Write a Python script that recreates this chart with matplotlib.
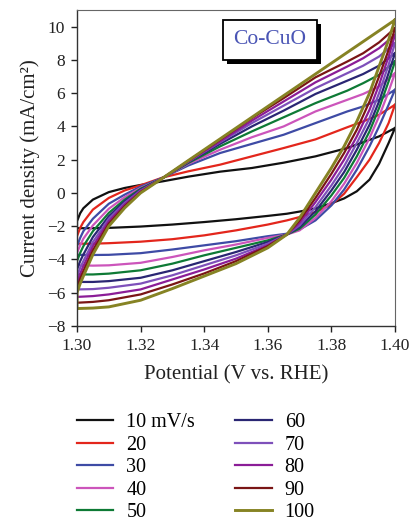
import matplotlib
matplotlib.use("Agg")
import matplotlib.pyplot as plt
import matplotlib.patheffects as pe

plt.rcParams['font.family'] = ['Liberation Serif', 'DejaVu Serif']

# scan rates (mV/s) and colours
rates = [10, 20, 30, 40, 50, 60, 70, 80, 90, 100]
labels = ['10 mV/s', '20', '30', '40', '50', '60', '70', '80', '90', '100']
colors = ['#111111', '#e3261c', '#3e4ba5', '#cc55bb', '#0e7a35',
          '#2a2673', '#7e50ba', '#8b1d97', '#7a1515', '#868324']

# anodic (forward) branch potentials and currents
v_up = [1.300, 1.301, 1.302, 1.305, 1.310, 1.315, 1.320, 1.327, 1.335,
        1.345, 1.355, 1.365, 1.375, 1.385, 1.390, 1.395, 1.400]
j_up = [
    [-1.7, -1.22, -0.92, -0.4, 0.05, 0.3, 0.48, 0.7, 0.98, 1.28, 1.5, 1.82, 2.2, 2.7, 3.05, 3.4, 3.9],
    [-2.6, -2.1, -1.75, -1.0, -0.3, 0.15, 0.46, 0.93, 1.3, 1.7, 2.2, 2.7, 3.22, 3.95, 4.3, 4.7, 5.3],
    [-3.2, -2.7, -2.3, -1.55, -0.65, -0.1, 0.38, 0.92, 1.65, 2.4, 2.95, 3.5, 4.2, 4.9, 5.2, 5.6, 6.2],
    [-3.6, -3.15, -2.75, -1.95, -0.95, -0.25, 0.3, 0.9, 1.75, 2.6, 3.35, 4.0, 4.9, 5.6, 5.95, 6.4, 7.2],
    [-4.1, -3.6, -3.2, -2.3, -1.2, -0.4, 0.25, 0.9, 1.8, 2.8, 3.7, 4.55, 5.4, 6.15, 6.6, 7.1, 7.9],
    [-4.6, -4.1, -3.7, -2.65, -1.4, -0.5, 0.2, 0.9, 1.85, 2.95, 4.0, 4.95, 5.95, 6.75, 7.15, 7.65, 8.4],
    [-5.0, -4.5, -4.1, -2.95, -1.55, -0.6, 0.15, 0.9, 1.88, 3.05, 4.2, 5.25, 6.3, 7.2, 7.65, 8.2, 9.0],
    [-5.4, -4.85, -4.4, -3.2, -1.7, -0.7, 0.1, 0.9, 1.9, 3.1, 4.35, 5.5, 6.65, 7.6, 8.1, 8.7, 9.5],
    [-5.7, -5.15, -4.7, -3.45, -1.85, -0.8, 0.05, 0.9, 1.93, 3.2, 4.5, 5.7, 6.95, 7.9, 8.4, 9.05, 9.9],
    [-6.0, -5.45, -5.0, -3.7, -2.0, -0.9, 0.0, 0.9, 1.95, 3.25, 4.55, 5.85, 7.15, 8.45, 9.1, 9.75, 10.4],
]

# cathodic (reverse) branch potentials and currents
v_dn = [1.400, 1.398, 1.395, 1.392, 1.388, 1.384, 1.380, 1.375, 1.370,
        1.366, 1.360, 1.350, 1.340, 1.330, 1.320, 1.310, 1.305, 1.300]
j_dn = [
    [3.9, 3.0, 1.75, 0.8, 0.1, -0.33, -0.62, -0.93, -1.12, -1.25, -1.38, -1.58, -1.75, -1.9, -2.02, -2.1, -2.12, -2.12],
    [5.3, 4.2, 3.0, 2.0, 0.95, -0.05, -0.7, -1.15, -1.45, -1.65, -1.9, -2.25, -2.55, -2.78, -2.93, -3.02, -3.05, -3.05],
    [6.2, 5.3, 4.0, 2.8, 1.4, 0.2, -0.75, -1.65, -2.2, -2.45, -2.6, -2.9, -3.15, -3.4, -3.62, -3.72, -3.73, -3.72],
    [7.2, 6.1, 4.6, 3.3, 1.8, 0.55, -0.5, -1.5, -2.25, -2.5, -2.7, -3.1, -3.45, -3.85, -4.2, -4.35, -4.37, -4.35],
    [7.9, 6.7, 5.1, 3.7, 2.2, 0.9, -0.15, -1.3, -2.15, -2.5, -2.85, -3.3, -3.75, -4.25, -4.65, -4.85, -4.9, -4.9],
    [8.4, 7.2, 5.5, 4.1, 2.6, 1.25, 0.15, -1.1, -2.05, -2.5, -2.95, -3.55, -4.1, -4.65, -5.1, -5.3, -5.35, -5.35],
    [9.0, 7.7, 6.0, 4.5, 3.0, 1.6, 0.45, -0.85, -1.95, -2.5, -3.05, -3.75, -4.35, -4.95, -5.45, -5.7, -5.78, -5.8],
    [9.5, 8.2, 6.5, 5.0, 3.4, 2.0, 0.8, -0.55, -1.8, -2.5, -3.15, -3.95, -4.6, -5.2, -5.8, -6.1, -6.2, -6.25],
    [9.9, 8.6, 7.0, 5.5, 3.8, 2.4, 1.15, -0.3, -1.65, -2.5, -3.2, -4.1, -4.84, -5.5, -6.1, -6.45, -6.55, -6.6],
    [10.4, 9.2, 7.6, 6.0, 4.3, 2.8, 1.5, 0.0, -1.5, -2.5, -3.3, -4.25, -5.0, -5.75, -6.45, -6.85, -6.92, -6.95],
]

xticks = [1.30, 1.32, 1.34, 1.36, 1.38, 1.40]
yticks = [-8, -6, -4, -2, 0, 2, 4, 6, 8, 10]

fig = plt.figure(figsize=(4.14, 5.25), dpi=100)
ax = fig.add_axes([0.186, 0.379, 0.768, 0.602])

lines = []
for i in range(len(rates)):
    lw = 2.1 if i == len(rates) - 1 else 1.6
    ln, = ax.plot(v_dn + v_up, j_dn[i] + j_up[i], color=colors[i], lw=lw,
                  label=labels[i], solid_joinstyle='round')
    lines.append(ln)

ax.set_xlim(1.30, 1.40)
ax.set_ylim(-8, 11)
ax.set_xticks(xticks)
ax.set_xticklabels(['%.2f' % x for x in xticks])
ax.set_yticks(yticks)
ax.tick_params(direction='out', length=4.5, width=1, labelsize=12.5,
               colors='#222222', pad=4)
ax.tick_params(top=False, right=False)
for s in ['top', 'right']:
    ax.spines[s].set_color('#666666')
    ax.spines[s].set_linewidth(0.8)
for s in ['left', 'bottom']:
    ax.spines[s].set_color('#333333')
    ax.spines[s].set_linewidth(1.0)

ax.set_xlabel('Potential (V vs. RHE)', fontsize=15, color='#222222', labelpad=8)
ax.set_ylabel('Current density (mA/cm\u00b2)', fontsize=15, color='#222222', labelpad=5)

# sample label box with drop shadow
t = ax.text(0.607, 0.905, 'Co-CuO', transform=ax.transAxes, fontsize=15.5,
            color='#4a55b5', ha='center', va='center',
            bbox=dict(boxstyle='square,pad=0.48', fc='white', ec='black', lw=1.3))
t.get_bbox_patch().set_path_effects([
    pe.withSimplePatchShadow(offset=(3, -3), shadow_rgbFace='black', alpha=1.0)])

fig.legend(handles=lines, loc='upper left', bbox_to_anchor=(0.186, 0.213),
           ncol=2, frameon=False, fontsize=14.5, handlelength=1.8,
           handletextpad=0.65, columnspacing=2.0, labelspacing=0.17,
           borderpad=0, borderaxespad=0)

fig.savefig('out.png', dpi=100)
